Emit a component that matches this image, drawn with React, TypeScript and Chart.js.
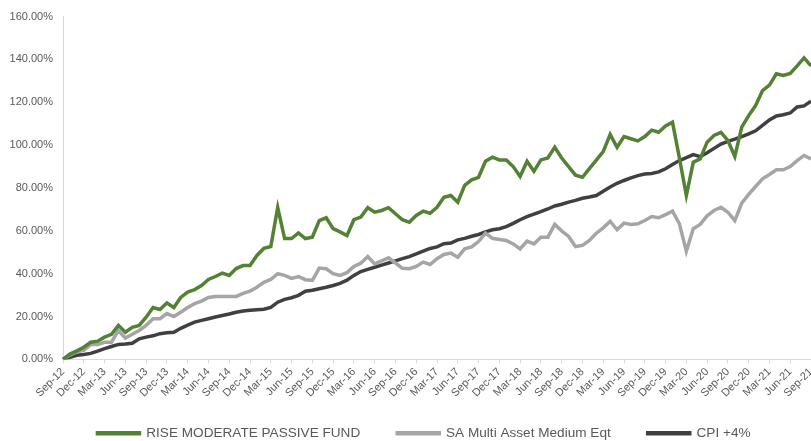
import React, { useEffect, useRef } from "react";
import { Chart, registerables } from "chart.js";

Chart.register(...registerables);

const MONTHS: string[] = ["Jan", "Feb", "Mar", "Apr", "May", "Jun", "Jul", "Aug", "Sep", "Oct", "Nov", "Dec"];

// Monthly categories Sep-12 .. Sep-21
const categories: string[] = [];
for (let y = 12; y <= 21; y++) {
  for (let m = 0; m < 12; m++) {
    if ((y === 12 && m < 8) || (y === 21 && m > 8)) continue;
    categories.push(`${MONTHS[m]}-${y}`);
  }
}

const riseModerate: number[] = [
  0, 2.5, 4, 5.7, 8, 8.5, 10.4, 11.7, 15.9, 12.7,
  15, 15.9, 19.7, 24.2, 23.3, 26.3, 24.2, 28.9, 31.4, 32.6,
  34.5, 37.3, 38.7, 40.3, 39.2, 42.4, 43.8, 43.8, 48.5, 51.8,
  52.7, 70.9, 56.4, 56.4, 59, 56.4, 57, 64.8, 66.1, 61,
  59.5, 57.8, 65.2, 66.4, 70.8, 68.7, 69.5, 70.8, 68, 65.2,
  64, 67.2, 69.2, 68.2, 71, 75.7, 76.5, 73.4, 81.2, 83.8,
  85, 92.5, 94.4, 93.1, 93.1, 90, 85.4, 92.5, 87.8, 93.1,
  94, 99, 94, 90, 86, 85, 89, 93, 97, 105,
  99, 104, 103, 102, 104, 107, 106, 109, 110.7, 94,
  76.5, 92, 93.6, 101.4, 104.5, 106, 102.2, 94.7, 108.4, 113.8,
  118.5, 125.5, 128, 133.3, 132.5, 133.5, 137, 140.7, 137,
];

const saMultiAsset: number[] = [
  0, 2, 3.5, 4.2, 7, 7, 8, 8, 13.5, 10,
  11.7, 13.5, 15.9, 19, 19, 21.4, 20, 22, 24.2, 26,
  27.2, 28.9, 29.4, 29.4, 29.4, 29.4, 30.8, 31.9, 33.7, 36,
  37.3, 40, 39.2, 37.8, 38.7, 37.2, 36.9, 42.6, 42.3, 40,
  39.2, 40.5, 43.4, 44.9, 48, 44.6, 46, 47.4, 45, 42.5,
  42.3, 43.4, 45.4, 44.3, 47, 49, 49.6, 47.7, 51.6, 52.5,
  55, 58.9, 56.5, 56, 55.5, 53.9, 51.6, 55.2, 53.9, 57,
  57, 63, 60, 57.4, 52.7, 53.2, 55.5, 58.9, 61.4, 64.5,
  60.5, 63.6, 63, 63.3, 64.8, 66.7, 66.1, 67.6, 69.2, 63.3,
  50.5, 61, 63, 67, 69.5, 71, 68.7, 64.8, 72.9, 77,
  80.7, 84.3, 86.3, 88.5, 88.5, 90, 92.8, 95.2, 93.6,
];

const cpiPlus4: number[] = [
  0, 1, 1.9, 2.3, 2.8, 3.9, 5, 6, 7, 7.2,
  7.5, 9.6, 10.4, 11, 12, 12.4, 12.7, 14.5, 16, 17.4,
  18.2, 19, 19.8, 20.5, 21.2, 22, 22.6, 22.9, 23.2, 23.4,
  24.3, 26.7, 28, 28.8, 29.9, 31.8, 32.3, 33, 33.7, 34.5,
  35.5, 37, 39.2, 41, 42, 43, 44, 45, 46, 47,
  48, 49.2, 50.5, 51.8, 52.5, 54, 54.3, 55.8, 56.5, 57.5,
  58.3, 59.5, 60.5, 61, 62, 63.5, 65.2, 66.6, 67.8, 69,
  70.2, 71.6, 72.4, 73.4, 74.2, 75.2, 75.8, 76.5, 78.5, 80.5,
  82.2, 83.5, 84.7, 85.8, 86.5, 86.8, 87.5, 89, 91, 92.8,
  94.2, 95.6, 94.6, 96.5, 98.5, 100.5, 101.8, 102.8, 104, 105.3,
  106.7, 109.2, 111.8, 113.6, 114.2, 115, 117.8, 118.3, 120.5,
];

const seriesNames: string[] = ["RISE MODERATE PASSIVE FUND", "SA Multi Asset Medium Eqt", "CPI +4%"];
const seriesColors: string[] = ["#548235", "#A5A5A5", "#404040"];

const W = 811;
const H = 450;
const FONT = "'Liberation Sans', Arial, sans-serif";
const TEXT = "#595959";
const AXIS = "#D9D9D9";

const legendShift = {
  id: "legendShift",
  afterLayout(chart: any) {
    const l = chart.legend;
    if (l) {
      l.left += 18.5;
      l.right += 18.5;
    }
  },
};

export default function App() {
  const ref = useRef<HTMLCanvasElement | null>(null);

  useEffect(() => {
    if (!ref.current) return;
    const values = [riseModerate, saMultiAsset, cpiPlus4];
    const chart = new Chart(ref.current, {
      type: "line",
      data: {
        labels: categories,
        datasets: values.map((d, i) => ({
          label: seriesNames[i],
          data: d,
          borderColor: seriesColors[i],
          backgroundColor: seriesColors[i],
          borderWidth: 3.5,
          pointRadius: 0,
          tension: 0,
          fill: false,
        })),
      },
      plugins: [legendShift],
      options: {
        animation: false,
        responsive: false,
        devicePixelRatio: 1,
        layout: { padding: { top: 16, right: 0, left: 0, bottom: 0 } },
        plugins: {
          tooltip: { enabled: false },
          legend: {
            position: "bottom",
            labels: {
              color: TEXT,
              font: { family: FONT, size: 13.6 },
              boxWidth: 42,
              boxHeight: 1,
              padding: 37,
            },
          },
        },
        scales: {
          x: {
            type: "category",
            offset: false,
            grid: {
              display: true,
              drawOnChartArea: false,
              drawTicks: true,
              tickLength: 4,
              color: (ctx: any) => (ctx.index % 3 === 0 ? AXIS : "rgba(0,0,0,0)"),
            },
            border: { display: true, color: AXIS, width: 1 },
            ticks: {
              autoSkip: false,
              maxRotation: 45,
              minRotation: 45,
              padding: 2,
              color: TEXT,
              font: { family: FONT, size: 11 },
              callback: function (this: any, val: any, index: number) {
                return index % 3 === 0 ? this.getLabelForValue(val) : "";
              },
            },
            afterFit: (scale: any) => {
              scale.height = 30;
              scale.paddingRight = 0;
              scale.paddingLeft = 0;
              scale._computeLabelArea = () => undefined;
            },
          },
          y: {
            min: 0,
            max: 160,
            grid: { display: false, drawTicks: false },
            border: { display: true, color: AXIS, width: 1 },
            ticks: {
              stepSize: 20,
              padding: 10,
              color: TEXT,
              font: { family: FONT, size: 11 },
              callback: (v: any) => Number(v).toFixed(2) + "%",
            },
            afterFit: (scale: any) => {
              scale.width = 63;
            },
          },
        },
      },
    });
    return () => chart.destroy();
  }, []);

  return (
    <div style={{ position: "absolute", left: 0, top: 0, width: W, height: 441, overflow: "hidden", background: "#fff" }}>
      <canvas ref={ref} width={W} height={H} style={{ width: W, height: H, display: "block" }} />
    </div>
  );
}
